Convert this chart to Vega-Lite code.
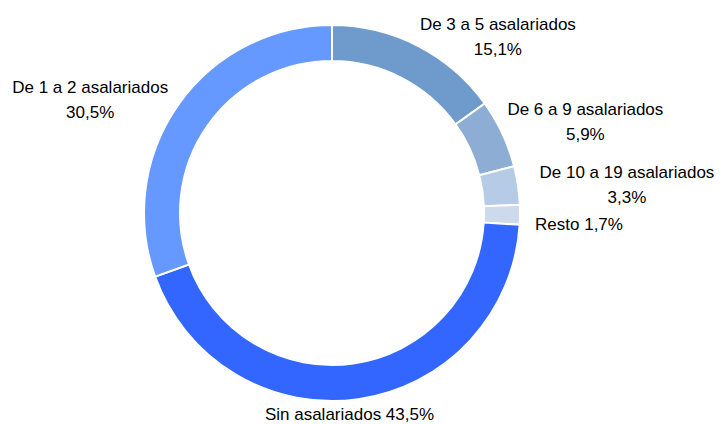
{
  "$schema": "https://vega.github.io/schema/vega-lite/v6.json",
  "autosize": {"type": "none"},
  "width": 664,
  "height": 422,
  "padding": {"left": 0, "top": 2, "right": 57, "bottom": 0},
  "background": "white",
  "config": {
    "view": {"stroke": null},
    "text": {"font": "Liberation Sans", "fontSize": 17, "lineHeight": 25, "lineBreak": "\n", "fill": "#000000", "align": "center", "baseline": "middle"}
  },
  "data": {
    "values": [
      {"ord": 1, "cat": "De 3 a 5 asalariados", "value": 15.1, "label": "De 3 a 5 asalariados\n15,1%"},
      {"ord": 2, "cat": "De 6 a 9 asalariados", "value": 5.9, "label": "De 6 a 9 asalariados\n5,9%"},
      {"ord": 3, "cat": "De 10 a 19 asalariados", "value": 3.3, "label": "De 10 a 19 asalariados\n3,3%"},
      {"ord": 4, "cat": "Resto", "value": 1.7, "label": "Resto 1,7%"},
      {"ord": 5, "cat": "Sin asalariados", "value": 43.5, "label": "Sin asalariados 43,5%"},
      {"ord": 6, "cat": "De 1 a 2 asalariados", "value": 30.5, "label": "De 1 a 2 asalariados\n30,5%"}
    ]
  },
  "encoding": {
    "theta": {"field": "value", "type": "quantitative", "stack": true},
    "order": {"field": "ord", "type": "quantitative"}
  },
  "layer": [
    {
      "mark": {"type": "arc", "outerRadius": 188, "innerRadius": 152, "stroke": "#ffffff", "strokeWidth": 2},
      "encoding": {
        "color": {
          "field": "cat",
          "type": "nominal",
          "scale": {
            "domain": ["De 3 a 5 asalariados", "De 6 a 9 asalariados", "De 10 a 19 asalariados", "Resto", "Sin asalariados", "De 1 a 2 asalariados"],
            "range": ["#6E9BCB", "#8DADD5", "#B6CCE6", "#CCDAEC", "#3366FF", "#6699FF"]
          },
          "legend": null
        }
      }
    },
    {
      "mark": {"type": "text", "radius": 188, "dx": 80, "dy": -21},
      "encoding": {"detail": {"field": "cat"}, "text": {"condition": {"test": "datum.cat === 'De 3 a 5 asalariados'", "field": "label"}, "value": ""}}
    },
    {
      "mark": {"type": "text", "radius": 188, "dx": 83, "dy": -23},
      "encoding": {"detail": {"field": "cat"}, "text": {"condition": {"test": "datum.cat === 'De 6 a 9 asalariados'", "field": "label"}, "value": ""}}
    },
    {
      "mark": {"type": "text", "radius": 188, "dx": 109, "dy": -12},
      "encoding": {"detail": {"field": "cat"}, "text": {"condition": {"test": "datum.cat === 'De 10 a 19 asalariados'", "field": "label"}, "value": ""}}
    },
    {
      "mark": {"type": "text", "radius": 188, "dx": 59, "dy": 10},
      "encoding": {"detail": {"field": "cat"}, "text": {"condition": {"test": "datum.cat === 'Resto'", "field": "label"}, "value": ""}}
    },
    {
      "mark": {"type": "text", "radius": 188, "dx": -9, "dy": 16},
      "encoding": {"detail": {"field": "cat"}, "text": {"condition": {"test": "datum.cat === 'Sin asalariados'", "field": "label"}, "value": ""}}
    },
    {
      "mark": {"type": "text", "radius": 188, "dx": -88, "dy": -17},
      "encoding": {"detail": {"field": "cat"}, "text": {"condition": {"test": "datum.cat === 'De 1 a 2 asalariados'", "field": "label"}, "value": ""}}
    }
  ]
}
